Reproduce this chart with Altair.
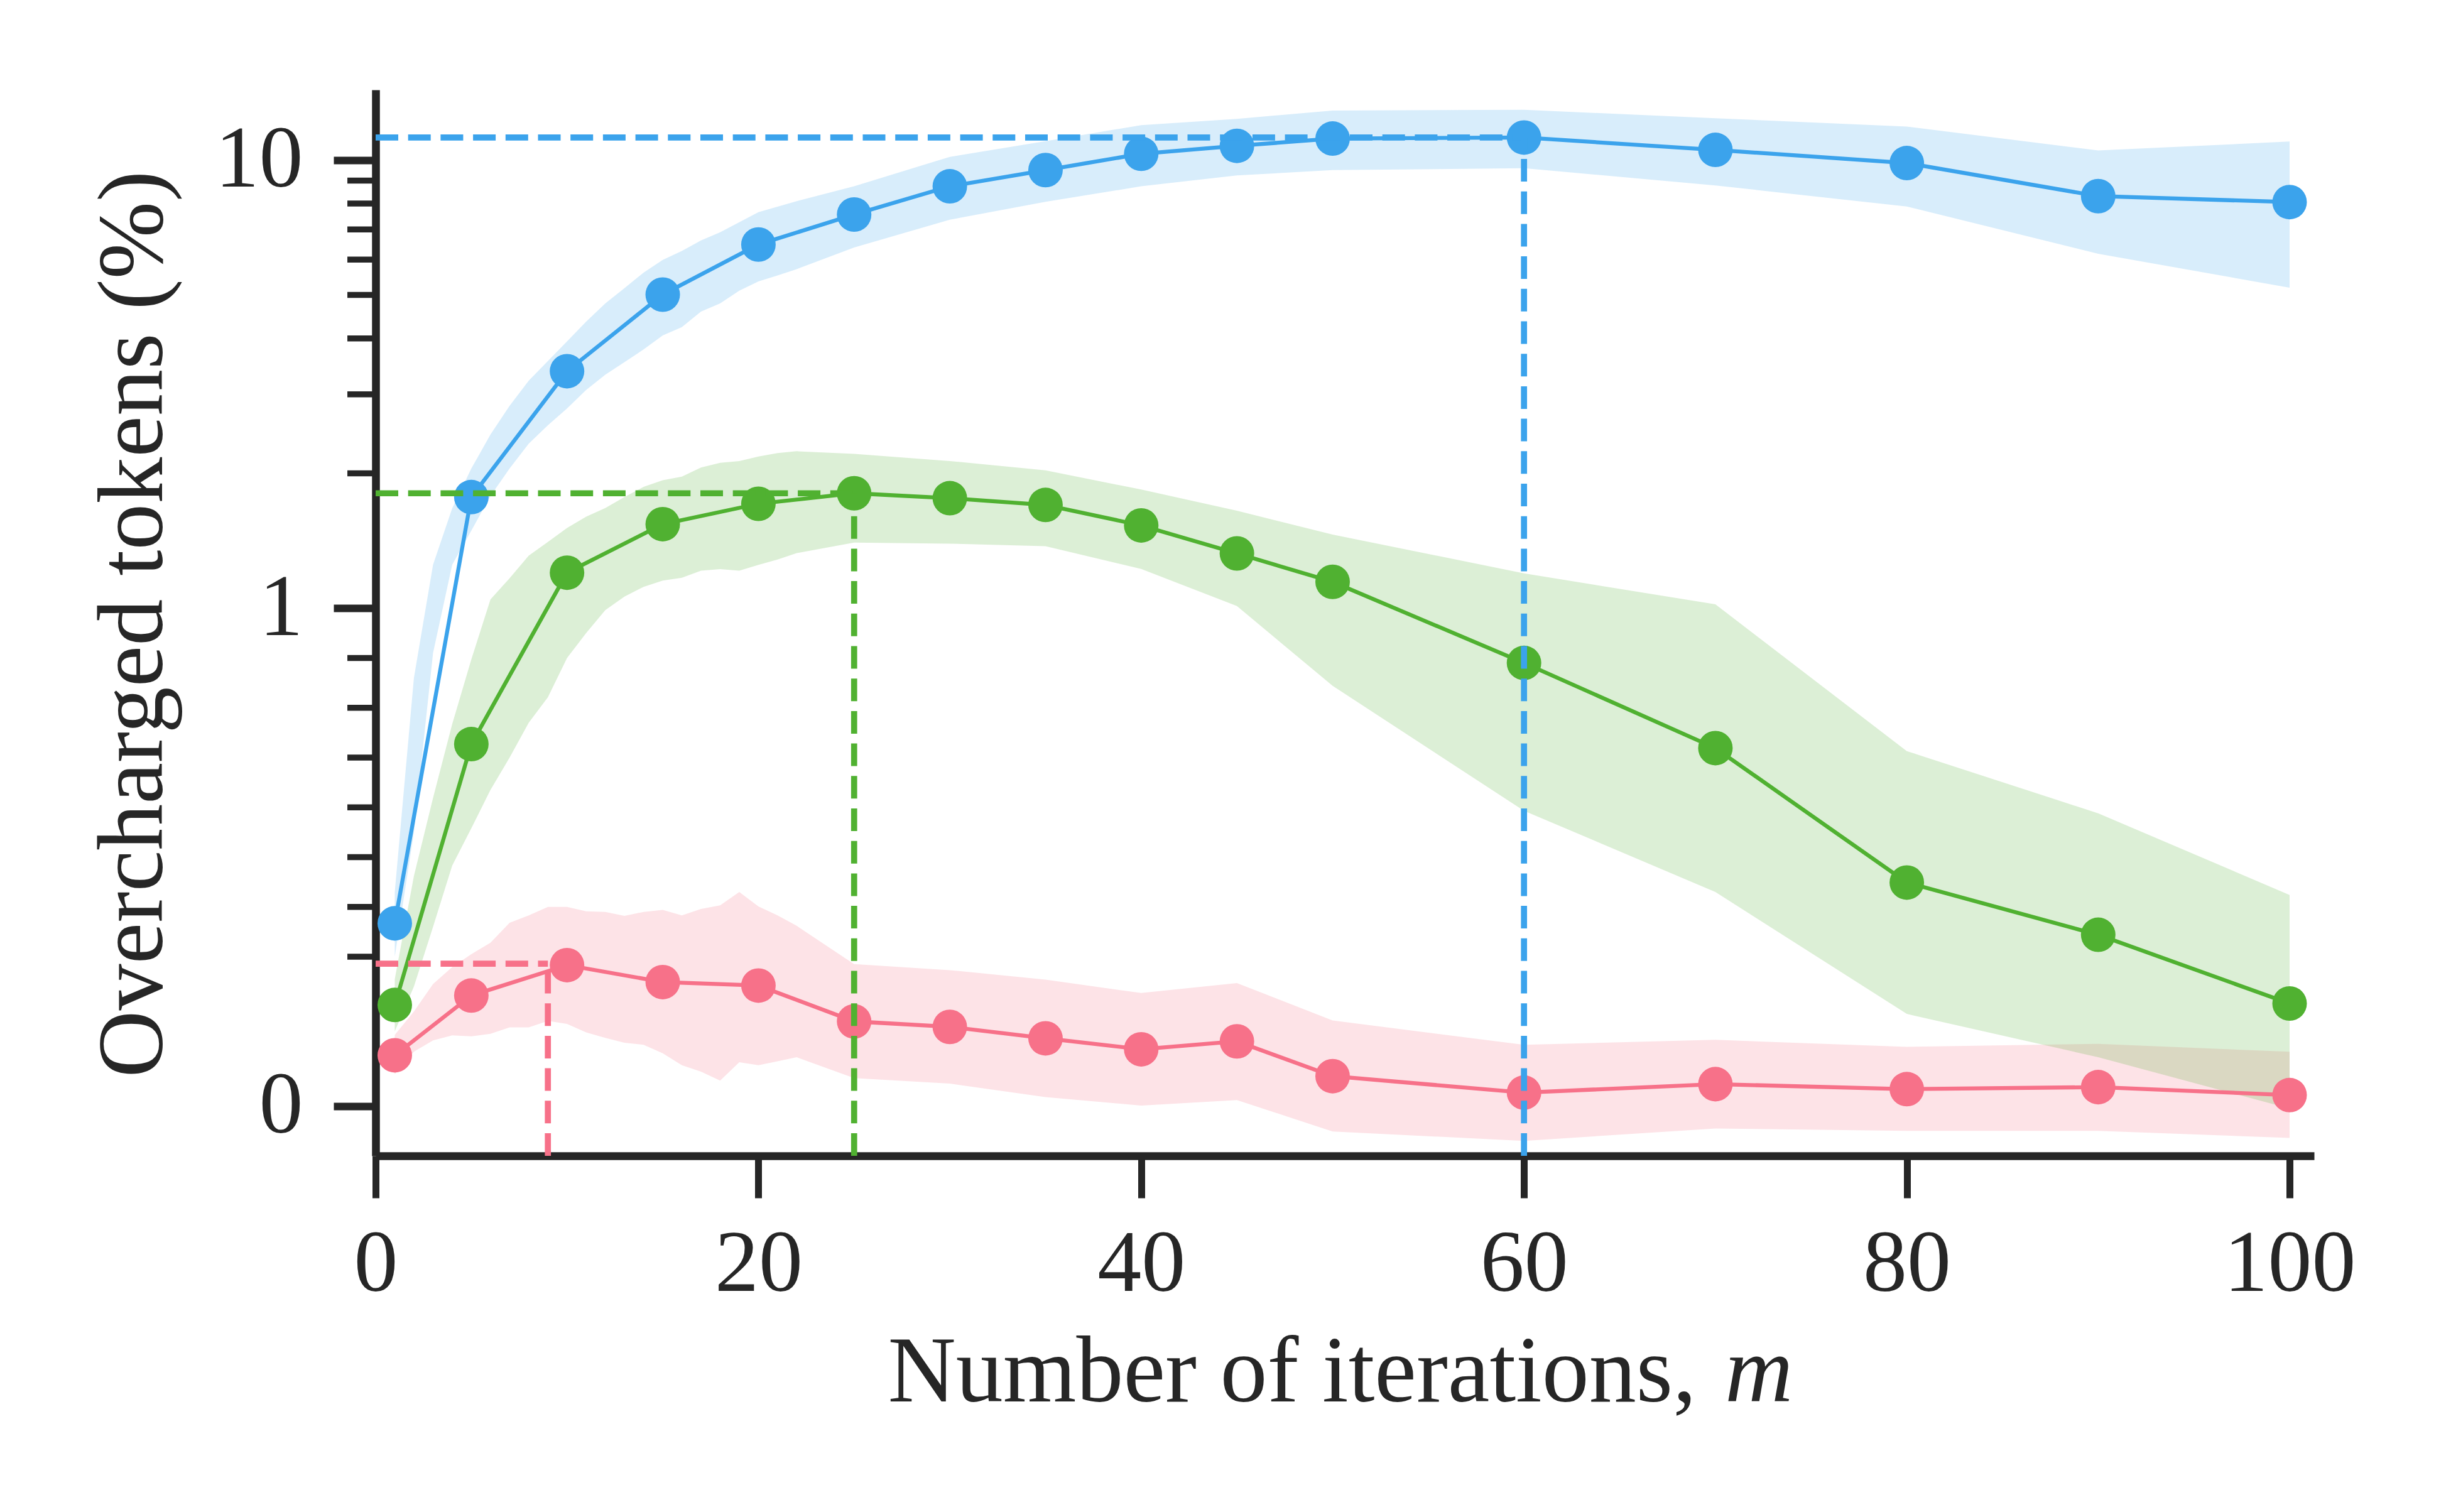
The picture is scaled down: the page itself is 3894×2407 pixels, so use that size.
import math

import altair as alt
import pandas as pd

# ---------------------------------------------------------------------------
# Data
# ---------------------------------------------------------------------------
SERIES = ["pink", "green", "blue"]
COLORS = {"pink": "#f77189", "green": "#50b131", "blue": "#3ba3ec"}

# iterations at which the mean curves are drawn (with markers)
M_LINE = [1, 5, 10, 15, 20, 25, 30, 35, 40, 45, 50, 60, 70, 80, 90, 100]

PINK_MEAN = [0.102, 0.222, 0.283, 0.249, 0.242, 0.170, 0.159, 0.136,
             0.114, 0.130, 0.060, 0.027, 0.044, 0.034, 0.038, 0.022]
GREEN_MEAN = [0.203, 0.727, 1.20, 1.54, 1.71, 1.805, 1.76, 1.70,
              1.53, 1.325, 1.145, 0.890, 0.719, 0.449, 0.344, 0.206]
BLUE_MEAN = [0.367, 1.77, 3.38, 5.01, 6.48, 7.56, 8.74, 9.50,
             10.33, 10.76, 11.17, 11.23, 10.54, 9.85, 8.31, 8.06]

# iterations at which the spread bands are sampled
M_BAND = list(range(1, 23)) + [25, 30, 35, 40, 45, 50, 60, 70, 80, 90, 100]

PINK_LO = [0.064, 0.109, 0.132, 0.142, 0.140, 0.145, 0.158, 0.158, 0.171, 0.165,
           0.148, 0.137, 0.127, 0.123, 0.106, 0.082, 0.069, 0.051, 0.088, 0.082,
           0.090, 0.098, 0.056, 0.045, 0.018, 0.001, 0.012, -0.051, -0.070, -0.045,
           -0.050, -0.050, -0.064]
PINK_HI = [0.143, 0.190, 0.245, 0.279, 0.305, 0.328, 0.368, 0.383, 0.400, 0.400,
           0.391, 0.390, 0.382, 0.390, 0.394, 0.383, 0.396, 0.403, 0.430, 0.401,
           0.383, 0.362, 0.285, 0.273, 0.254, 0.227, 0.247, 0.172, 0.123, 0.133,
           0.119, 0.125, 0.109]
GREEN_LO = [0.150, 0.240, 0.360, 0.483, 0.558, 0.635, 0.700, 0.770, 0.821, 0.900,
            0.950, 0.996, 1.061, 1.116, 1.152, 1.169, 1.212, 1.222, 1.212, 1.249,
            1.284, 1.327, 1.401, 1.393, 1.375, 1.223, 1.011, 0.844, 0.593, 0.430,
            0.185, 0.098, -0.005]
GREEN_HI = [0.255, 0.462, 0.619, 0.767, 0.897, 1.046, 1.166, 1.310, 1.406, 1.510,
            1.600, 1.673, 1.770, 1.865, 1.930, 1.966, 2.060, 2.110, 2.130, 2.180,
            2.220, 2.240, 2.210, 2.130, 2.030, 1.840, 1.650, 1.460, 1.196, 1.020,
            0.713, 0.588, 0.424]
BLUE_LO = [0.30, 0.55, 0.91, 1.25, 1.49, 1.78, 2.05, 2.33, 2.56, 2.79,
           3.07, 3.32, 3.54, 3.78, 4.06, 4.24, 4.59, 4.79, 5.11, 5.36,
           5.53, 5.71, 6.38, 7.36, 8.07, 8.74, 9.24, 9.50, 9.59, 8.78,
           7.88, 6.18, 5.19]
BLUE_HI = [0.43, 0.86, 1.25, 1.67, 2.05, 2.44, 2.83, 3.22, 3.56, 3.94,
           4.36, 4.79, 5.18, 5.61, 5.99, 6.27, 6.62, 6.90, 7.27, 7.65,
           7.87, 8.10, 8.74, 10.17, 11.02, 11.97, 12.36, 12.90, 12.95, 12.40,
           11.88, 10.51, 11.00]

# location of each curve's maximum (marked with dashed guides)
PEAK_M = [9, 25, 60]
PEAK_V = [0.286, 1.805, 11.23]

# axes
X_MIN, X_MAX = 0, 101.28
Y_MIN, Y_MAX = -0.1, 14.35
X_TICKS = [0, 20, 40, 60, 80, 100]
Y_MAJOR = [0, 1, 10]
Y_MINOR = [0.3, 0.4, 0.5, 0.6, 0.7, 0.8, 0.9, 2, 3, 4, 5, 6, 7, 8, 9]

X_TITLE = "Number of iterations,"
X_TITLE_VAR = "m"
Y_TITLE = "Overcharged tokens (%)"

# ---------------------------------------------------------------------------
# Symmetric-log transform (linear below 1, log10 above, one decade-width each)
# ---------------------------------------------------------------------------
LINTHRESH = 1.0
LS = 1.0 / (1.0 - 1.0 / 10.0)


def symlog(v):
    if abs(v) <= LINTHRESH:
        return v * LS
    return math.copysign(LINTHRESH * (LS + math.log10(abs(v) / LINTHRESH)), v)


def symlog_expr(f):
    d = f"datum['{f}']"
    return (f"abs({d}) <= {LINTHRESH!r} ? {d} * {LS!r} : "
            f"({d} > 0 ? 1 : -1) * {LINTHRESH!r} * ({LS!r} + log(abs({d}) / {LINTHRESH!r}) / LN10)")


# ---------------------------------------------------------------------------
# Tables
# ---------------------------------------------------------------------------
means = {"pink": PINK_MEAN, "green": GREEN_MEAN, "blue": BLUE_MEAN}
lows = {"pink": PINK_LO, "green": GREEN_LO, "blue": BLUE_LO}
highs = {"pink": PINK_HI, "green": GREEN_HI, "blue": BLUE_HI}

line_df = pd.concat(
    [pd.DataFrame({"m": M_LINE, "v": means[s], "series": s}) for s in SERIES],
    ignore_index=True)
band_df = pd.concat(
    [pd.DataFrame({"m": M_BAND, "lo": lows[s], "hi": highs[s], "series": s}) for s in SERIES],
    ignore_index=True)
peak_df = pd.DataFrame({"m": PEAK_M, "v": PEAK_V, "series": SERIES,
                        "m0": X_MIN, "v0": Y_MIN})
minor_df = pd.DataFrame({"v": Y_MINOR})
var_df = pd.DataFrame({"label": [X_TITLE_VAR]})

# ---------------------------------------------------------------------------
# Styling
# ---------------------------------------------------------------------------
FONT = "Liberation Serif"
INK = "#262626"
W, H = 3086, 1697
MARKER_D = 55  # marker diameter in px

x_scale = alt.Scale(domain=[X_MIN, X_MAX], nice=False, zero=False)
y_scale = alt.Scale(domain=[symlog(Y_MIN), symlog(Y_MAX)], nice=False, zero=False)

x_axis = alt.Axis(
    values=X_TICKS, format="d", grid=False,
    title=X_TITLE, titleFont=FONT, titleFontSize=150, titleFontWeight="normal",
    titleColor=INK, titleAlign="left", titleBaseline="alphabetic",
    titleX=815, titleY=390, titleLimit=0,
    labelFont=FONT, labelFontSize=140, labelColor=INK, labelBaseline="alphabetic",
    labelPadding=147, labelFlush=False, labelOverlap=False, labelBound=False,
    labelLimit=0,
    tickSize=67, tickWidth=11, tickColor=INK,
    domainWidth=12.5, domainColor=INK,
)

label_expr = (f"datum.value <= {LS!r} ? format(datum.value / {LS!r}, '.0f') : "
              f"format(pow(10, datum.value - {LS!r}), '.0f')")

y_axis = alt.Axis(
    values=[symlog(v) for v in Y_MAJOR], labelExpr=label_expr, grid=False,
    title=Y_TITLE, titleFont=FONT, titleFontSize=148, titleFontWeight="normal",
    titleColor=INK, titleAngle=270, titleAlign="center", titleBaseline="alphabetic",
    titleX=-341, titleY=850, titleLimit=0,
    labelFont=FONT, labelFontSize=140, labelColor=INK, labelBaseline="middle",
    labelAlign="right", labelPadding=49, labelOverlap=False, labelBound=False,
    labelFlush=False, labelLimit=0,
    tickSize=67, tickWidth=12, tickColor=INK,
    domainWidth=12.5, domainColor=INK,
)


def X(field):
    return alt.X(f"{field}:Q", scale=x_scale, axis=x_axis)


def Y(field):
    return alt.Y(f"{field}:Q", scale=y_scale, axis=y_axis)


layers = []

# spread bands (all below the curves)
for s in SERIES:
    layers.append(
        alt.Chart(band_df)
        .transform_filter(alt.datum.series == s)
        .transform_calculate(t_lo=symlog_expr("lo"), t_hi=symlog_expr("hi"))
        .mark_area(color=COLORS[s], fillOpacity=0.2, strokeWidth=0)
        .encode(x=X("m"), y=Y("t_lo"), y2="t_hi:Q")
    )

# mean curves with markers
for s in SERIES:
    base = (alt.Chart(line_df)
            .transform_filter(alt.datum.series == s)
            .transform_calculate(t=symlog_expr("v")))
    layers.append(base.mark_line(color=COLORS[s], strokeWidth=6.3)
                  .encode(x=X("m"), y=Y("t")))
    # vega circle size is the area of the enclosing square
    layers.append(base.mark_circle(color=COLORS[s], size=MARKER_D ** 2, opacity=1)
                  .encode(x=X("m"), y=Y("t")))

# dashed guides to each maximum
for s in SERIES:
    base = (alt.Chart(peak_df)
            .transform_filter(alt.datum.series == s)
            .transform_calculate(t=symlog_expr("v"), t0=symlog_expr("v0")))
    layers.append(base.mark_rule(color=COLORS[s], strokeWidth=9.7, strokeDash=[36, 15.7])
                  .encode(x=X("m0"), x2="m:Q", y=Y("t")))
    layers.append(base.mark_rule(color=COLORS[s], strokeWidth=9.7, strokeDash=[36, 15.7])
                  .encode(x=X("m"), y=Y("t0"), y2="t:Q"))

# minor ticks on the y axis
layers.append(
    alt.Chart(minor_df)
    .transform_calculate(t=symlog_expr("v"))
    .mark_rule(color=INK, strokeWidth=9.5)
    .encode(x=alt.value(0), x2=alt.value(-45), y=Y("t"))
)

# italic variable at the end of the x-axis title
layers.append(
    alt.Chart(var_df)
    .mark_text(font=FONT, fontSize=150, fontStyle="italic", color=INK,
               align="left", baseline="alphabetic")
    .encode(text="label:N", x=alt.value(2148), y=alt.value(2087))
)

chart = (
    alt.layer(*layers)
    .properties(
        width=W, height=H,
        padding={"left": 598, "top": 143, "right": 3894 - 598 - W, "bottom": 2407 - 143 - H},
        autosize=alt.AutoSizeParams(type="none"),
        background="white",
    )
    .configure_view(stroke=None)
)

chart.save("out.html", embed_options={"renderer": "svg", "actions": False})
